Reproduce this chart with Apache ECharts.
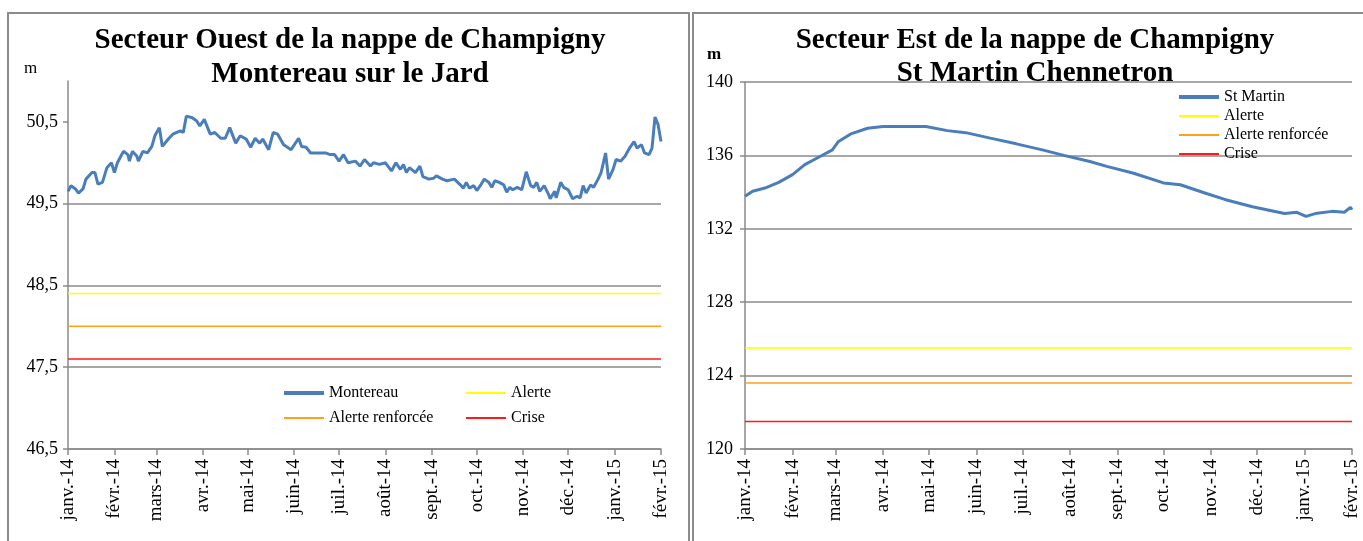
<!DOCTYPE html>
<html><head><meta charset="utf-8">
<script src="https://cdn.jsdelivr.net/npm/echarts@6/dist/echarts.min.js"></script>
<style>html,body{margin:0;padding:0;background:#fff}#c{width:1363px;height:541px}</style>
</head><body><div id="c"></div><script>
// Month tick labels (Jan 2014 .. Feb 2015)
const monthLabels = ['janv.-14','févr.-14','mars-14','avr.-14','mai-14','juin-14','juil.-14','août-14','sept.-14','oct.-14','nov.-14','déc.-14','janv.-15','févr.-15'];

// Left: Montereau sur le Jard (days since 2014-01-01, level in m)
const leftDays = [0,2,5,7,10,12,16,18,20,23,26,29,31,33,37,40,41,43,46,47,50,53,56,58,61,63,67,70,75,77,79,83,86,88,91,95,98,102,105,108,112,115,119,122,125,128,130,134,137,140,144,149,154,156,159,162,165,172,175,178,181,184,187,192,195,198,202,204,208,212,216,219,222,224,226,228,232,235,237,241,244,246,250,253,258,262,264,266,268,271,273,276,278,281,283,285,288,291,293,295,297,300,303,306,309,311,313,315,318,321,322,325,326,329,331,334,337,340,342,344,346,349,351,354,356,359,361,364,366,369,372,375,378,380,383,385,388,390,392,394,396];
const leftValues = [49.65,49.72,49.68,49.63,49.68,49.80,49.88,49.88,49.74,49.76,49.94,50.00,49.88,50.00,50.14,50.10,50.02,50.14,50.08,50.02,50.14,50.12,50.20,50.33,50.43,50.20,50.29,50.35,50.39,50.37,50.57,50.55,50.51,50.45,50.53,50.35,50.37,50.30,50.30,50.43,50.24,50.33,50.29,50.19,50.30,50.24,50.29,50.16,50.37,50.35,50.22,50.16,50.30,50.20,50.19,50.12,50.12,50.12,50.10,50.10,50.02,50.10,50.00,50.02,49.96,50.04,49.96,50.00,49.98,50.00,49.90,50.00,49.92,49.98,49.88,49.94,49.88,49.96,49.83,49.80,49.81,49.84,49.80,49.78,49.80,49.73,49.69,49.76,49.69,49.72,49.66,49.74,49.80,49.76,49.70,49.78,49.76,49.73,49.64,49.70,49.67,49.70,49.67,49.89,49.72,49.70,49.76,49.65,49.72,49.61,49.56,49.65,49.57,49.76,49.70,49.67,49.56,49.59,49.57,49.72,49.63,49.73,49.70,49.80,49.88,50.12,49.80,49.92,50.04,50.02,50.08,50.18,50.26,50.18,50.22,50.12,50.10,50.18,50.56,50.47,50.26];
const leftThresholds = [48.4, 48.0, 47.6]; // Alerte, Alerte renforcée, Crise
const leftYTicks = [46.5, 47.5, 48.5, 49.5, 50.5];

// Right: St Martin Chennetron
const rightDays = [0,5,13,22,31,39,48,57,61,69,80,90,118,132,144,160,177,194,208,225,236,253,273,284,300,313,331,352,360,366,372,383,391,395,396];
const rightValues = [133.77,134.05,134.22,134.53,134.95,135.5,135.9,136.3,136.76,137.17,137.48,137.57,137.57,137.35,137.24,136.94,136.63,136.3,136.0,135.67,135.4,135.04,134.5,134.4,133.95,133.6,133.2,132.83,132.9,132.68,132.83,132.95,132.9,133.17,133.04];
const rightThresholds = [125.5, 123.6, 121.5];

const thresholdNames = ['Alerte','Alerte renforcée','Crise'];
const thresholdColors = ['#ffff00','#ffa020','#ff1a1a'];

const DAY = 864e5;
const monthDays = monthLabels.map((_, i) => Math.round((Date.UTC(2014, i, 1) - Date.UTC(2014, 0, 1)) / DAY));
const lastDay = monthDays[monthDays.length - 1];
const labelOf = {};
monthDays.forEach((d, i) => labelOf[d] = monthLabels[i]);

const FONT = 'Liberation Serif';
const GRID = '#8a8a8a';
const BLUE = '#4a7ebb';
const fmtFr = v => (Math.round(v * 10) / 10).toFixed(v % 1 === 0 ? 0 : 1).replace('.', ',');

function xAxis(gi) {
  return {
    type: 'value', gridIndex: gi, min: 0, max: lastDay,
    axisLine: {show: true, lineStyle: {color: GRID, width: 1.5}},
    axisTick: {show: true, customValues: monthDays, length: 6, lineStyle: {color: GRID, width: 1.5}},
    axisLabel: {customValues: monthDays, rotate: 90, margin: 10, fontSize: 19, color: '#000', fontFamily: FONT,
      formatter: v => labelOf[Math.round(v)] || ''},
    splitLine: {show: false}
  };
}

const series = [];
series.push({name: 'Montereau', type: 'line', xAxisIndex: 0, yAxisIndex: 0, symbol: 'none',
  data: leftDays.map((d, i) => [d, leftValues[i]]),
  lineStyle: {color: BLUE, width: 3}, itemStyle: {color: BLUE}, z: 5});
thresholdNames.forEach((n, k) => series.push({name: n, type: 'line', xAxisIndex: 0, yAxisIndex: 0, symbol: 'none',
  data: [[0, leftThresholds[k]], [lastDay, leftThresholds[k]]],
  lineStyle: {color: thresholdColors[k], width: 1.5}, itemStyle: {color: thresholdColors[k]}}));
series.push({name: 'St Martin', type: 'line', xAxisIndex: 1, yAxisIndex: 1, symbol: 'none',
  data: rightDays.map((d, i) => [d, rightValues[i]]),
  lineStyle: {color: BLUE, width: 3}, itemStyle: {color: BLUE}, z: 5});
thresholdNames.forEach((n, k) => series.push({name: n, type: 'line', xAxisIndex: 1, yAxisIndex: 1, symbol: 'none',
  data: [[0, rightThresholds[k]], [lastDay, rightThresholds[k]]],
  lineStyle: {color: thresholdColors[k], width: 1.5}, itemStyle: {color: thresholdColors[k]}}));

const legendText = {fontSize: 16, lineHeight: 16, color: '#000', fontFamily: FONT};
const legendBase = {orient: 'vertical', itemWidth: 40, itemHeight: 14, textStyle: legendText, selectedMode: false,
  itemStyle: {opacity: 0}, padding: 0};
const thick = name => ({name: name, lineStyle: {width: 4}});
const option = {
  animation: false,
  backgroundColor: '#fff',
  textStyle: {fontFamily: FONT},
  title: [
    {text: 'Secteur Ouest de la nappe de Champigny\nMontereau sur le Jard', left: 345, top: 19, textAlign: 'center',
      textStyle: {fontSize: 29, fontWeight: 'bold', lineHeight: 34, color: '#000', fontFamily: FONT}},
    {text: 'Secteur Est de la nappe de Champigny\nSt Martin Chennetron', left: 1030, top: 19, textAlign: 'center',
      textStyle: {fontSize: 29, fontWeight: 'bold', lineHeight: 33, color: '#000', fontFamily: FONT}}
  ],
  legend: [
    Object.assign({data: [thick('Montereau'), 'Alerte renforcée'], left: 282, top: 385, itemGap: 9}, legendBase),
    Object.assign({data: ['Alerte', 'Crise'], left: 465, top: 385, itemGap: 9}, legendBase),
    Object.assign({data: [thick('St Martin'), 'Alerte', 'Alerte renforcée', 'Crise'], left: 1177, top: 89, itemGap: 3}, legendBase)
  ],
  grid: [
    {left: 68, top: 81, width: 593, height: 368},
    {left: 745, top: 82, width: 607, height: 367}
  ],
  xAxis: [xAxis(0), xAxis(1)],
  yAxis: [
    {type: 'value', gridIndex: 0, min: 46.5, max: 51, interval: 1,
      axisLine: {show: true, lineStyle: {color: GRID, width: 1.5}},
      axisTick: {show: true, customValues: leftYTicks, length: 5, lineStyle: {color: GRID, width: 1.5}},
      axisLabel: {customValues: leftYTicks, fontSize: 18, color: '#000', margin: 10, fontFamily: FONT, formatter: v => fmtFr(v)},
      splitLine: {show: true, showMaxLine: false, lineStyle: {color: GRID, width: 1.5}}},
    {type: 'value', gridIndex: 1, min: 120, max: 140, interval: 4,
      axisLine: {show: true, lineStyle: {color: GRID, width: 1.5}},
      axisTick: {show: true, length: 5, lineStyle: {color: GRID, width: 1.5}},
      axisLabel: {fontSize: 18, color: '#000', margin: 12, fontFamily: FONT, formatter: v => fmtFr(v)},
      splitLine: {show: true, lineStyle: {color: GRID, width: 1.5}}}
  ],
  graphic: [
    {type: 'rect', shape: {x: 8, y: 13, width: 681, height: 560}, style: {fill: 'none', stroke: '#8c8c8c', lineWidth: 2}, silent: true, z: -1},
    {type: 'rect', shape: {x: 693, y: 13, width: 680, height: 560}, style: {fill: 'none', stroke: '#8c8c8c', lineWidth: 2}, silent: true, z: -1},
    {type: 'text', left: 24, top: 60, style: {text: 'm', fontSize: 17, fontFamily: FONT, fill: '#000'}},
    {type: 'text', left: 707, top: 46, style: {text: 'm', fontSize: 17, fontWeight: 'bold', fontFamily: FONT, fill: '#000'}}
  ],
  series: series
};
const chart = echarts.init(document.getElementById('c'), null, {renderer: 'canvas'});
chart.setOption(option);
</script></body></html>
